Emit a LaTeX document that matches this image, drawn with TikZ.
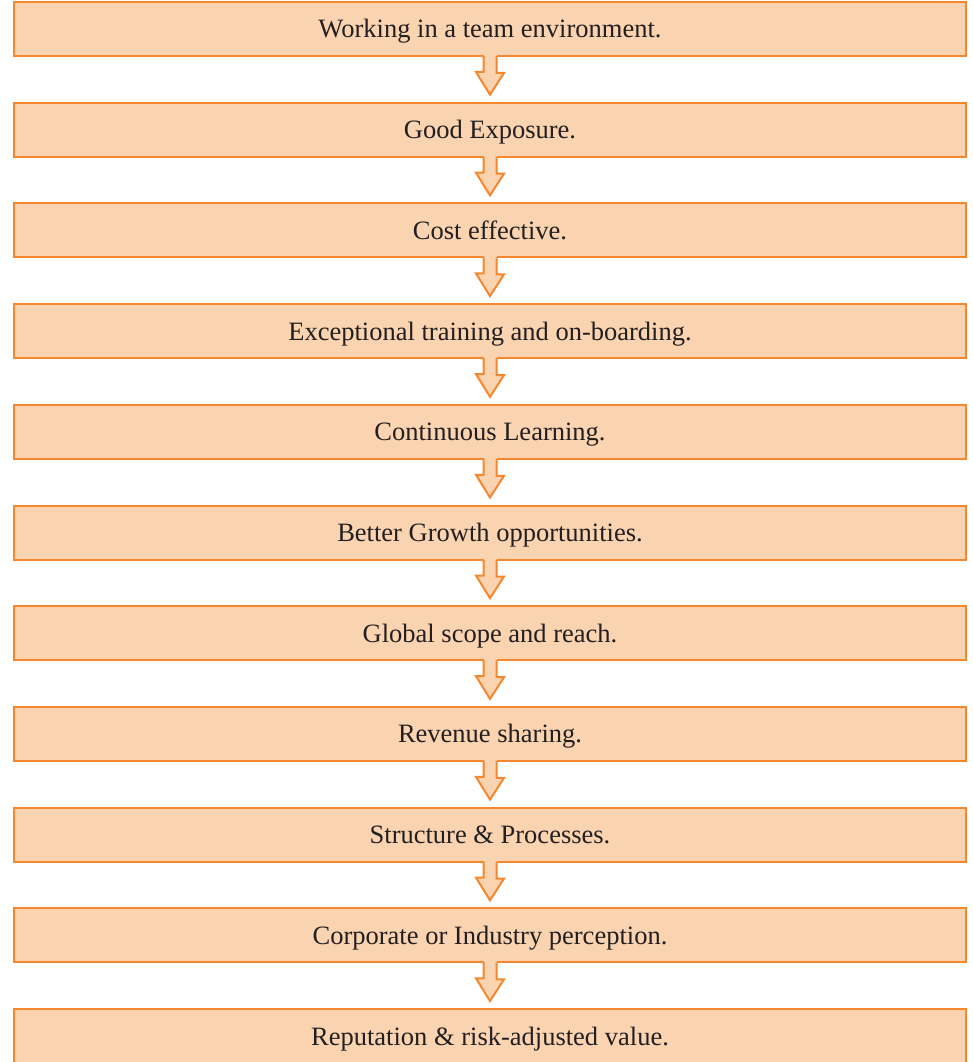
\documentclass[tikz,border=0pt]{standalone}
\usepackage{fontspec}
\setmainfont{Liberation Serif}
\definecolor{boxfill}{HTML}{FAD3B0}
\definecolor{boxline}{HTML}{F5872E}
\definecolor{ink}{HTML}{231F20}
\begin{document}
\begin{tikzpicture}[x=1pt,y=-1pt,
  stagebox/.style={draw=boxline, fill=boxfill, line width=2pt, minimum width=952pt,
    minimum height=54pt, inner sep=0pt, text=ink, text depth=0pt, text height=18pt,
    font=\fontsize{26.5}{28}\selectfont},
  flowarrow/.style={fill=boxfill, draw=boxline, line width=2pt, line join=miter}]
\useasboundingbox (0,0) rectangle (972,1062);
\foreach \i/\t in {0/Working in a team environment.,
                   1/Good Exposure.,
                   2/Cost effective.,
                   3/Exceptional training and on-boarding.,
                   4/Continuous Learning.,
                   5/Better Growth opportunities.,
                   6/Global scope and reach.,
                   7/Revenue sharing.,
                   8/Structure \& Processes.,
                   9/Corporate or Industry perception.,
                   10/Reputation \& risk-adjusted value.}{
  \node[stagebox] (b\i) at (490, 29+100.7*\i) {\t};
}
% hollow down-arrows linking each stage to the next
\foreach \i [evaluate=\i as \j using int(\i+1)] in {0,...,9}{
  \fill[boxfill] ([xshift=-6.5pt,yshift=2pt]b\i.south) rectangle ([xshift=6.5pt,yshift=-0pt]b\i.south);
  \draw[flowarrow] ([xshift=-6.5pt,yshift=1pt]b\i.south)
    -- ++(0,16) -- ++(-7.5,0) -- ([yshift=7pt]b\j.north) -- ([xshift=14pt,yshift=-16pt]b\i.south -| b\j.north)
    -- ++(-7.5,0) -- ([xshift=6.5pt,yshift=1pt]b\i.south);
}
\end{tikzpicture}
\end{document}
